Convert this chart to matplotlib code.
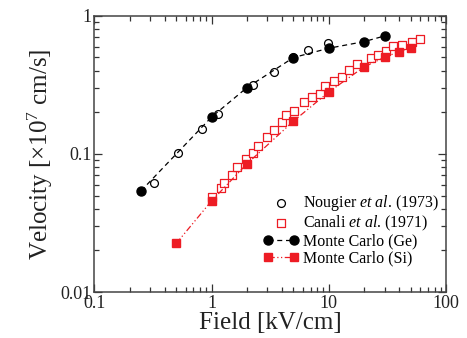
import matplotlib
matplotlib.use("Agg")
import matplotlib.pyplot as plt
from matplotlib.ticker import FixedLocator, FixedFormatter, LogLocator, NullFormatter

plt.rcParams['font.family'] = ['Liberation Serif', 'DejaVu Serif']
plt.rcParams['mathtext.fontset'] = 'custom'
plt.rcParams['mathtext.rm'] = 'Liberation Serif'
plt.rcParams['mathtext.it'] = 'Liberation Serif:italic'

RED = '#ed1c24'

# Nougier et al. (1973), Ge
nougier_field = [0.32, 0.52, 0.83, 1.13, 2.26, 3.4, 5.0, 6.6, 9.8]
nougier_vel = [0.0613, 0.102, 0.151, 0.195, 0.318, 0.395, 0.507, 0.564, 0.641]

# Canali et al. (1971), Si
canali_field = [1.01, 1.20, 1.28, 1.50, 1.65, 1.98, 2.25, 2.49, 2.95, 3.43,
                4.01, 4.31, 5.07, 6.17, 7.22, 8.40, 9.27, 11.0, 12.9, 14.9,
                17.5, 22.9, 26.1, 30.7, 35.0, 41.8, 51.8, 59.8]
canali_vel = [0.0491, 0.0564, 0.0621, 0.0705, 0.0801, 0.092, 0.101, 0.114,
              0.132, 0.149, 0.171, 0.192, 0.206, 0.237, 0.258, 0.271, 0.311,
              0.340, 0.363, 0.406, 0.449, 0.494, 0.519, 0.561, 0.603, 0.611,
              0.643, 0.678]

# Monte Carlo results
mc_ge_field = [0.25, 1.0, 2.0, 5.0, 10.0, 20.0, 30.0]
mc_ge_vel = [0.054, 0.185, 0.302, 0.499, 0.583, 0.651, 0.716]

mc_si_field = [0.5, 1.0, 2.0, 5.0, 10.0, 20.0, 30.0, 40.0, 50.0]
mc_si_vel = [0.0225, 0.0457, 0.0847, 0.173, 0.281, 0.427, 0.502, 0.551, 0.587]

x_ticks = [0.1, 1, 10, 100]
x_ticklabels = ['0.1', '1', '10', '100']
y_ticks = [0.01, 0.1, 1]
y_ticklabels = ['0.01', '0.1', '1']

fig = plt.figure(figsize=(4.67, 3.38), dpi=100)
ax = fig.add_axes([0.202, 0.136, 0.753, 0.817])

ax.scatter(nougier_field, nougier_vel, s=32, facecolors='white',
           edgecolors='k', linewidths=0.9, zorder=3,
           label=r'Nougier $\mathit{et\ al}$. (1973)')
ax.scatter(canali_field, canali_vel, s=30, marker='s', facecolors='white',
           edgecolors=RED, linewidths=0.9, zorder=3,
           label=r'Canali $\mathit{et\ al}$. (1971)')
ax.plot(mc_ge_field, mc_ge_vel, color='k', ls=(0, (4, 3)), lw=0.9,
        marker='o', ms=6.5, zorder=4, label='Monte Carlo (Ge)')
ax.plot(mc_si_field, mc_si_vel, color=RED, ls=(0, (5, 2, 1, 2, 1, 2)), lw=0.9,
        marker='s', ms=6, zorder=4, label='Monte Carlo (Si)')

ax.set_xscale('log')
ax.set_yscale('log')
ax.set_xlim(0.1, 100)
ax.set_ylim(0.01, 1)

ax.xaxis.set_major_locator(FixedLocator(x_ticks))
ax.xaxis.set_major_formatter(FixedFormatter(x_ticklabels))
ax.yaxis.set_major_locator(FixedLocator(y_ticks))
ax.yaxis.set_major_formatter(FixedFormatter(y_ticklabels))
for axis in (ax.xaxis, ax.yaxis):
    axis.set_minor_locator(LogLocator(base=10, subs=range(2, 10)))
    axis.set_minor_formatter(NullFormatter())

ax.tick_params(which='both', direction='in', top=True, right=True,
               width=0.9, colors='#333333', labelcolor='#222222',
               labelsize=13, pad=2)
ax.tick_params(which='major', length=6)
ax.tick_params(which='minor', length=3.5)
for sp in ax.spines.values():
    sp.set_color('#444444')
    sp.set_linewidth(1.1)

ax.set_xlabel('Field [kV/cm]', fontsize=18, color='#222222', labelpad=0)
ax.set_ylabel(r'Velocity [×10$^7$ cm/s]', fontsize=18, color='#222222',
              labelpad=4)

ax.legend(loc='lower right', bbox_to_anchor=(1.0, 0.07), borderaxespad=0,
          frameon=False, fontsize=11.5, scatterpoints=1, numpoints=2,
          handlelength=2.2, handletextpad=0.3, labelspacing=0.05)

fig.savefig('out.png', dpi=100)
